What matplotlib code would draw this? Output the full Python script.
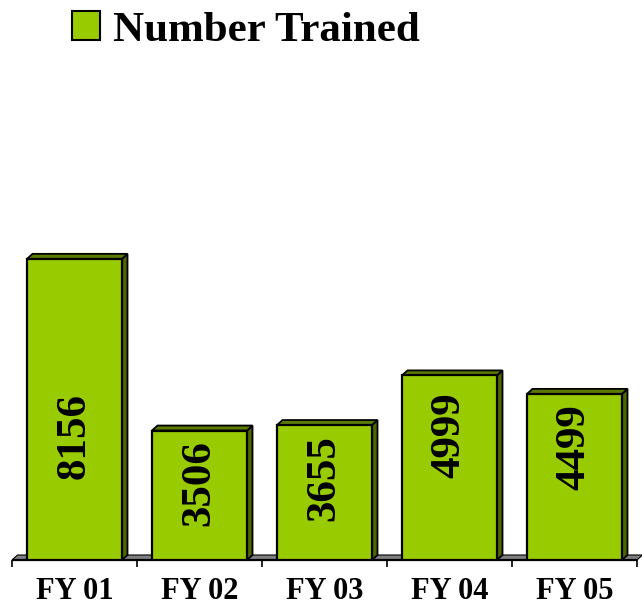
import matplotlib
matplotlib.use("Agg")
import matplotlib.pyplot as plt
from matplotlib.patches import Polygon, Patch
from matplotlib.transforms import offset_copy
import numpy as np

categories = ["FY 01", "FY 02", "FY 03", "FY 04", "FY 05"]
values = [8156, 3506, 3655, 4999, 4499]
series_name = "Number Trained"

FRONT = "#99cc00"
SIDE = "#4d6600"
TOP = "#5c7a00"
FLOOR = "#808080"
FONT = "Liberation Serif"

fig = plt.figure(figsize=(6.42, 6.08), dpi=100)
ax = fig.add_axes([12 / 642, 48 / 608, 625 / 642, 480 / 608])
ax.set_xlim(-0.5, len(categories) - 0.5)
ax.set_ylim(0, 13000)
ax.patch.set_visible(False)
for s in ax.spines.values():
    s.set_visible(False)

# depth of 3D effect in data units (from pixel sizes)
fig.canvas.draw()
bb = ax.get_window_extent()
px_x = bb.width / (ax.get_xlim()[1] - ax.get_xlim()[0])
px_y = bb.height / (ax.get_ylim()[1] - ax.get_ylim()[0])
dx = 5.5 / px_x
dy = 5.0 / px_y

x = np.arange(len(categories))
w = 0.76

# floor
x0, x1 = ax.get_xlim()
floor = Polygon([(x0, 0), (x1, 0), (x1 + dx, dy), (x0 + dx, dy)], closed=True,
                facecolor=FLOOR, edgecolor="black", linewidth=0.8, zorder=1, clip_on=False)
ax.add_patch(floor)
ax.plot([x0, x1], [0, 0], color="black", linewidth=1.6, zorder=2, clip_on=False,
        solid_capstyle="butt")

bars = ax.bar(x, values, width=w, color=FRONT, edgecolor="black", linewidth=1.6, zorder=4)
for xi, v in zip(x, values):
    r = xi + w / 2
    l = xi - w / 2
    side = Polygon([(r, 0), (r + dx, dy), (r + dx, v + dy), (r, v)], closed=True,
                   facecolor=SIDE, edgecolor="black", linewidth=1.3, zorder=3, clip_on=False)
    top = Polygon([(l, v), (l + dx, v + dy), (r + dx, v + dy), (r, v)], closed=True,
                  facecolor=TOP, edgecolor="black", linewidth=1.3, zorder=3, clip_on=False)
    ax.add_patch(side)
    ax.add_patch(top)

# value labels
lab_tr = offset_copy(ax.transData, fig=fig, x=0, y=-10, units="dots")
for xi, v in zip(x, values):
    ax.text(xi, min(v, 4800), str(v), rotation=90, ha="center", va="top",
            transform=lab_tr, fontsize=31, fontweight="bold", family=FONT,
            color="black", zorder=6)

# ticks
ax.set_xticks(x)
ax.set_xticklabels(categories, fontsize=22, fontweight="bold", family=FONT)
ax.set_xticks(np.arange(-0.5, len(categories)), minor=True)
ax.tick_params(axis="x", which="major", length=0, pad=12)
ax.tick_params(axis="x", which="minor", length=5, width=1.2, color="black")
ax.set_yticks([])

# legend
handle = Patch(facecolor=FRONT, edgecolor="black", linewidth=1.5)
fig.legend([handle], [series_name], loc="upper left",
           bbox_to_anchor=(72 / 642, 1 - 11 / 608), frameon=False,
           prop={"family": FONT, "weight": "bold", "size": 31},
           handlelength=0.66, handleheight=0.66, handletextpad=0.3,
           borderpad=0, borderaxespad=0)

fig.savefig("out.png", dpi=100)
